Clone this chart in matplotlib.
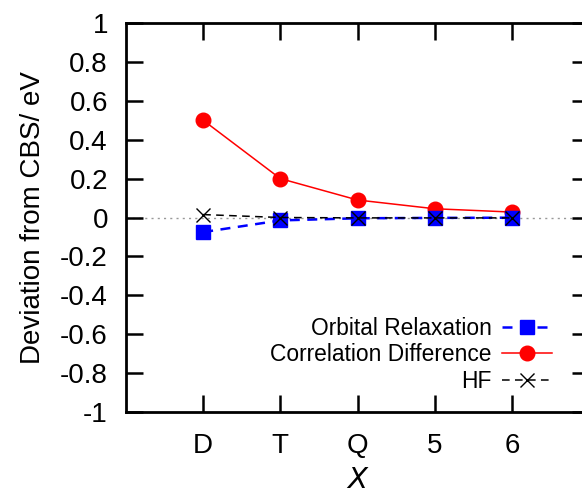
import numpy as np
import matplotlib.pyplot as plt

# basis set cardinal numbers
labels = ['D', 'T', 'Q', '5', '6']
xpos = [1, 2, 3, 4, 5]

orbital = [-0.075, -0.015, -0.004, -0.002, -0.001]
correlation = [0.50, 0.20, 0.09, 0.045, 0.028]
hf = [0.015, 0.0, -0.002, -0.002, -0.002]

plt.rcParams['font.family'] = ['Liberation Sans', 'DejaVu Sans']

fig = plt.figure(figsize=(5.82, 4.96), dpi=100)
# right spine sits just past the picture edge, as in the original
ax = fig.add_axes([126 / 582, 84 / 496, 463 / 582, 389 / 496])

ax.axhline(0, color='#999999', lw=1, ls=(0, (1.5, 3)), zorder=1)

ax.plot(xpos, orbital, color='#0000ff', lw=1.8, ls=(0, (4, 3)), marker='s',
        ms=10, label='Orbital Relaxation', zorder=3)
ax.plot(xpos, correlation, color='#ff0000', lw=1.1, marker='o', ms=10.5,
        label='Correlation Difference', zorder=2)
ax.plot(xpos, hf, color='black', lw=1.1, ls=(0, (5, 3.5)), marker='x', ms=10,
        mew=1.0, label='HF', zorder=4)

ax.set_xlim(0, 6)
ax.set_ylim(-1, 1)
ax.set_xticks(xpos)
ax.set_xticklabels(labels)
ax.set_yticks(np.arange(-1, 1.01, 0.2))
ax.set_yticklabels(['-1', '-0.8', '-0.6', '-0.4', '-0.2', '0',
                    '0.2', '0.4', '0.6', '0.8', '1'])
ax.tick_params(direction='in', length=12, width=1.8, labelsize=20,
               top=True, right=True)
ax.tick_params(axis='y', pad=13)
ax.tick_params(axis='x', pad=15)
for s in ax.spines.values():
    s.set_linewidth(2)

ax.set_ylabel('Deviation from CBS/ eV', fontsize=20, labelpad=10)
ax.set_xlabel('$X$', fontsize=21, labelpad=5)

ax.legend(loc='lower right', bbox_to_anchor=(0.92, 0.05), frameon=False,
          markerfirst=False, fontsize=16.4, handlelength=2.2, labelspacing=0.15,
          handletextpad=0.45, borderaxespad=0, borderpad=0)

fig.savefig('out.png', dpi=100)
